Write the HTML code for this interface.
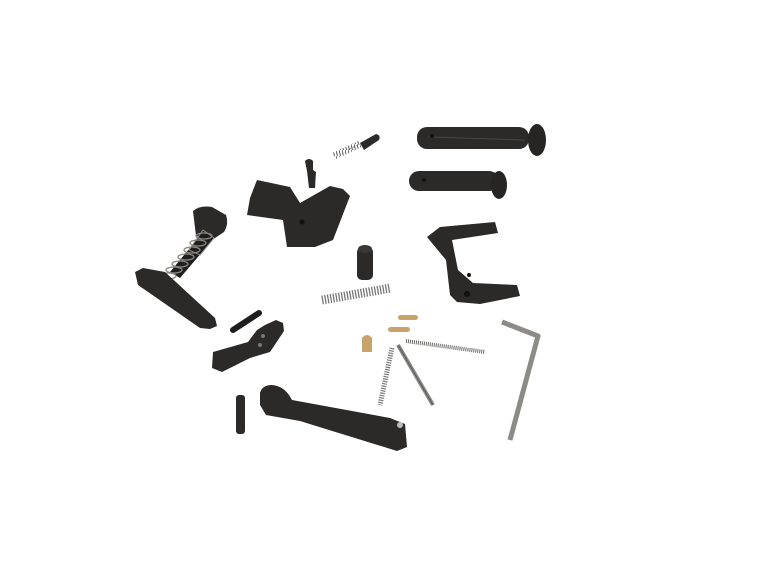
<!DOCTYPE html>
<html><head><meta charset="utf-8"><style>html,body{margin:0;padding:0;background:#fff;}svg{display:block}</style></head>
<body>
<svg width="768" height="566" viewBox="0 0 768 566" xmlns="http://www.w3.org/2000/svg">
<defs>
<pattern id="sp" width="3" height="6" patternUnits="userSpaceOnUse"><rect width="3" height="6" fill="#fff" opacity="0"/><line x1="0" y1="0" x2="1.5" y2="6" stroke="#555" stroke-width="1"/></pattern>
</defs>
<rect width="768" height="566" fill="#fff"/>
<g fill="#2b2a28">
<!-- pin 1 -->
<rect x="417" y="127" width="112" height="22" rx="10"/>
<ellipse cx="537" cy="140" rx="9" ry="16" fill="#262523"/>
<line x1="428" y1="137" x2="525" y2="140" stroke="#4a4640" stroke-width="1"/>
<circle cx="432" cy="136" r="2" fill="#111"/>
<!-- pin 2 -->
<rect x="409" y="171" width="90" height="20" rx="10"/>
<ellipse cx="499" cy="185" rx="8" ry="14" fill="#262523"/>
<circle cx="424" cy="180" r="2" fill="#111"/>
<!-- detent top -->
<path d="M360,143 L376,134 Q381,135 379,140 L364,150 Z"/>
<line x1="334" y1="156" x2="360" y2="144" stroke="url(#sp)" stroke-width="7"/>
<line x1="334" y1="156" x2="360" y2="144" stroke="#777" stroke-width="1" stroke-dasharray="1 2"/>
<!-- small screw -->
<path d="M305,161 Q309,157 313,161 L313,170 L316,172 L315,188 L309,188 L307,171 Z"/>
<!-- bolt catch -->
<path d="M257,180 L290,187 L300,203 L330,186 L343,189 L350,196 L333,240 L315,247 L287,247 L283,220 L247,215 L250,198 Z"/>
<circle cx="302" cy="222" r="2.5" fill="#111"/>
<!-- mag release -->
<path d="M193,211 Q200,205 212,207 L226,215 Q229,224 224,232 L212,240 L196,236 Z"/>
<path d="M203,232 L214,238 L180,278 L170,272 Z" fill="#1f1e1c"/>
<path d="M203,230 L214,238 L200,255 L189,250 Z" fill="none" stroke="#888" stroke-width="1"/>
<g stroke="#8a8680" stroke-width="1.3" fill="none">
<ellipse cx="204" cy="236" rx="8" ry="3"/><ellipse cx="198" cy="243" rx="8" ry="3"/><ellipse cx="192" cy="250" rx="8" ry="3"/><ellipse cx="186" cy="257" rx="8" ry="3"/><ellipse cx="180" cy="264" rx="8" ry="3"/><ellipse cx="174" cy="270" rx="8" ry="3"/><ellipse cx="168" cy="276" rx="8" ry="3"/>
</g>
<path d="M135,272 L143,268 L165,272 L215,318 L217,326 L210,329 L200,328 L138,285 Z"/>
<!-- detent cylinder -->
<rect x="357" y="247" width="16" height="33" rx="5"/>
<ellipse cx="365" cy="249" rx="7" ry="4" fill="#3a3835"/>
<!-- horizontal spring -->
<line x1="322" y1="300" x2="391" y2="288" stroke="#777" stroke-width="9" stroke-dasharray="1.3 1.5"/>
<!-- safety -->
<path d="M427,237 L440,227 L495,222 L498,233 L452,240 L458,270 L473,283 L517,285 L520,296 L480,304 L457,302 L450,295 L446,260 Z"/>
<circle cx="467" cy="294" r="3" fill="#111"/>
<circle cx="469" cy="275" r="2" fill="#111"/>
<!-- brass -->
<rect x="398" y="315" width="20" height="5" rx="2.5" fill="#c9a46a"/>
<rect x="388" y="327" width="22" height="5" rx="2.5" fill="#c9a46a"/>
<path d="M362,338 Q367,332 372,338 L372,352 L362,352 Z" fill="#c8a36c"/>
<!-- springs/rods -->
<line x1="406" y1="341" x2="485" y2="352" stroke="#6a6865" stroke-width="4" stroke-dasharray="1 1"/>
<line x1="392" y1="348" x2="380" y2="405" stroke="#7a7875" stroke-width="5" stroke-dasharray="1.2 1.2"/>
<line x1="398" y1="345" x2="433" y2="405" stroke="#8b8986" stroke-width="4"/>
<line x1="398" y1="345" x2="433" y2="405" stroke="#5c5a57" stroke-width="1"/>
<!-- allen wrench -->
<path d="M502,322 L538,336 L510,440" fill="none" stroke="#8d8b88" stroke-width="5" stroke-linejoin="round"/>
<!-- hammer pin -->
<line x1="233" y1="330" x2="259" y2="313" stroke="#1e1d1b" stroke-width="6" stroke-linecap="round"/>
<!-- trigger piece -->
<path d="M213,352 L248,342 L257,330 L265,325 L276,320 L283,323 L284,331 L270,352 L250,358 L222,372 L212,368 Z"/>
<circle cx="263" cy="336" r="2" fill="#777"/><circle cx="260" cy="345" r="2" fill="#777"/>
<!-- roll pin -->
<rect x="236" y="395" width="9" height="39" rx="3"/>
<!-- trigger guard -->
<path d="M260,393 Q262,385 272,385 Q285,386 292,400 L390,418 L405,424 L407,447 L397,451 L300,421 L266,415 L260,405 Z"/>
<circle cx="400" cy="425" r="3" fill="#bbb"/>
</g>
</svg>
</body></html>
